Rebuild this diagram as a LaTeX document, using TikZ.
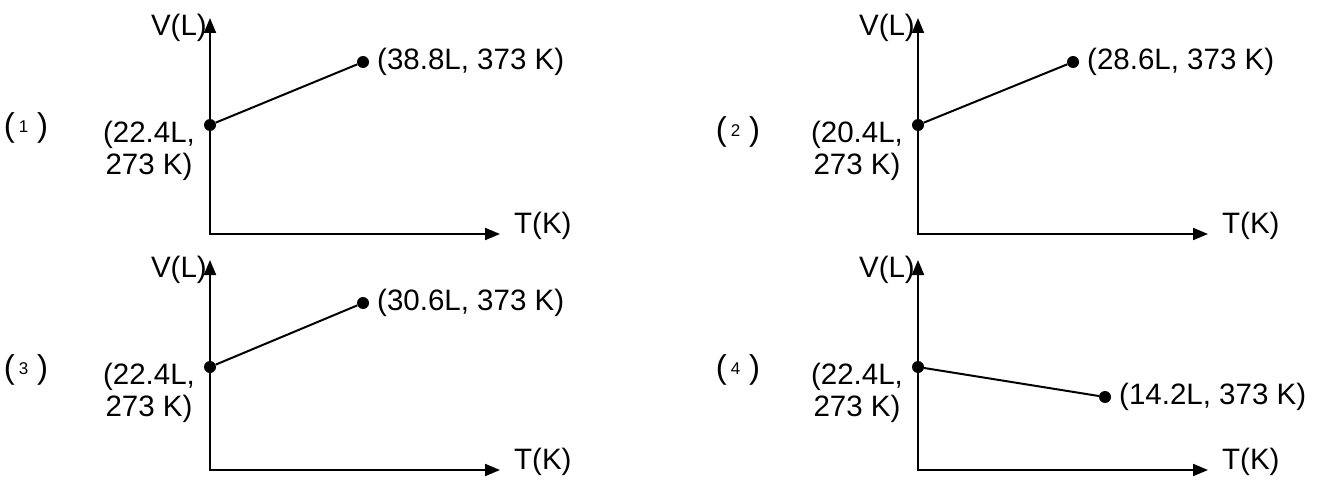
\documentclass[tikz,border=0pt]{standalone}
\usepackage{fontspec}
\setmainfont{Liberation Sans}
\usetikzlibrary{arrows.meta}
\newcommand{\fsz}{\fontsize{29.5}{32}\selectfont}
\newcommand{\smd}[1]{{\fontsize{33}{34}\selectfont(\hspace{4pt}\raisebox{4pt}{\fontsize{17}{18}\selectfont #1}\hspace{9pt})}}
\begin{document}
\begin{tikzpicture}[x=1pt,y=-1pt,
  ax/.style={line width=2pt,{Triangle[length=15pt,width=12pt]}-{Triangle[length=15pt,width=12pt]}},
  ln/.style={line width=2pt},
  dot/.style={circle,fill,inner sep=0pt,minimum size=12pt},
  lbl/.style={font=\fsz,inner sep=0pt}]
\useasboundingbox (0,0) rectangle (1331,495);
% panel 1
\begin{scope}[shift={(210,234)}]
  \coordinate (o1) at (0,0);
  \coordinate (yt1) at (0,-216);
  \coordinate (xt1) at (290,0);
  \draw[ax] (yt1) -- (o1) -- (xt1);
  \node[lbl,anchor=east] (v1) at (-3,-206) {V(L)};
  \node[lbl,anchor=west] (t1) at (304,-8) {T(K)};
  \node[dot] (a1) at (0,-109) {};
  \node[dot] (b1) at (153,-172) {};
  \draw[ln] (a1) -- (b1);
  \node[lbl,anchor=west] (lb1) at ([xshift=14pt]b1.center) {(38.8L, 373 K)};
  \node[lbl,align=center] (la1) at (-61,-83) {(22.4L,\\273 K)};
  \node[lbl] (p1) at (-184,-106) {\smd{1}};
\end{scope}
% panel 2
\begin{scope}[shift={(918,234)}]
  \coordinate (o2) at (0,0);
  \coordinate (yt2) at (0,-216);
  \coordinate (xt2) at (290,0);
  \draw[ax] (yt2) -- (o2) -- (xt2);
  \node[lbl,anchor=east] (v2) at (-3,-206) {V(L)};
  \node[lbl,anchor=west] (t2) at (304,-8) {T(K)};
  \node[dot] (a2) at (0,-109) {};
  \node[dot] (b2) at (155,-172) {};
  \draw[ln] (a2) -- (b2);
  \node[lbl,anchor=west] (lb2) at ([xshift=14pt]b2.center) {(28.6L, 373 K)};
  \node[lbl,align=center] (la2) at (-61,-83) {(20.4L,\\273 K)};
  \node[lbl] (p2) at (-180,-102) {\smd{2}};
\end{scope}
% panel 3
\begin{scope}[shift={(210,470)}]
  \coordinate (o3) at (0,0);
  \coordinate (yt3) at (0,-210);
  \coordinate (xt3) at (290,0);
  \draw[ax] (yt3) -- (o3) -- (xt3);
  \node[lbl,anchor=east] (v3) at (-3,-200) {V(L)};
  \node[lbl,anchor=west] (t3) at (304,-8) {T(K)};
  \node[dot] (a3) at (0,-103) {};
  \node[dot] (b3) at (153,-167) {};
  \draw[ln] (a3) -- (b3);
  \node[lbl,anchor=west] (lb3) at ([xshift=14pt]b3.center) {(30.6L, 373 K)};
  \node[lbl,align=center] (la3) at (-61,-77) {(22.4L,\\273 K)};
  \node[lbl] (p3) at (-184,-100) {\smd{3}};
\end{scope}
% panel 4
\begin{scope}[shift={(918,470)}]
  \coordinate (o4) at (0,0);
  \coordinate (yt4) at (0,-210);
  \coordinate (xt4) at (290,0);
  \draw[ax] (yt4) -- (o4) -- (xt4);
  \node[lbl,anchor=east] (v4) at (-3,-200) {V(L)};
  \node[lbl,anchor=west] (t4) at (304,-8) {T(K)};
  \node[dot] (a4) at (0,-103) {};
  \node[dot] (b4) at (187,-73) {};
  \draw[ln] (a4) -- (b4);
  \node[lbl,anchor=west] (lb4) at ([xshift=14pt]b4.center) {(14.2L, 373 K)};
  \node[lbl,align=center] (la4) at (-61,-77) {(22.4L,\\273 K)};
  \node[lbl] (p4) at (-180,-100) {\smd{4}};
\end{scope}
\end{tikzpicture}
\end{document}
